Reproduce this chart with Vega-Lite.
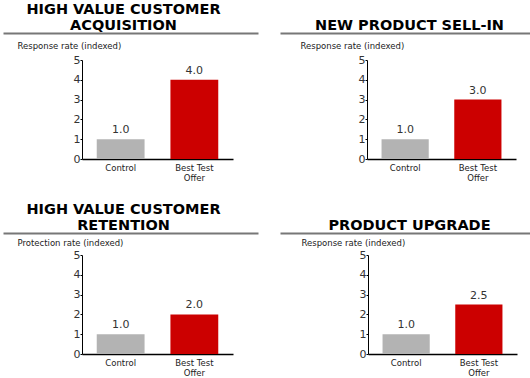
{
  "$schema": "https://vega.github.io/schema/vega-lite/v6.json",
  "padding": {"top": 1, "left": 0, "right": 0, "bottom": 0},
  "background": "white",
  "config": {
    "view": {"stroke": null},
    "font": "DejaVu Sans"
  },
  "data": {
    "values": [
      {"panel": "p1", "cat": "Control", "value": 1.0},
      {"panel": "p1", "cat": "Best Test Offer", "value": 4.0},
      {"panel": "p2", "cat": "Control", "value": 1.0},
      {"panel": "p2", "cat": "Best Test Offer", "value": 3.0},
      {"panel": "p3", "cat": "Control", "value": 1.0},
      {"panel": "p3", "cat": "Best Test Offer", "value": 2.0},
      {"panel": "p4", "cat": "Control", "value": 1.0},
      {"panel": "p4", "cat": "Best Test Offer", "value": 2.5}
    ]
  },
  "columns": 2,
  "spacing": {"row": 96, "column": 22},
  "bounds": "flush",
  "concat": [
    {
      "width": 255, "height": 99,
      "title": {"text": ["HIGH VALUE CUSTOMER", "ACQUISITION"], "font": "DejaVu Sans", "fontSize": 14.5, "fontWeight": "bold", "color": "#000", "lineHeight": 16, "anchor": "middle", "frame": "group", "offset": 0, "dx": -7},
      "transform": [{"filter": "datum.panel == 'p1'"}],
      "layer": [
        {
          "layer": [
            {"mark": {"type": "bar"}, "encoding": {"color": {"field": "cat", "type": "nominal", "scale": {"domain": ["Control", "Best Test Offer"], "range": ["#b3b3b3", "#cc0000"]}, "legend": null}}},
            {"mark": {"type": "text", "dy": -4, "baseline": "bottom", "fontSize": 11, "color": "#333", "font": "DejaVu Sans"}, "encoding": {"text": {"field": "value", "type": "quantitative", "format": ".1f"}}}
          ],
          "encoding": {
            "x": {"field": "cat", "type": "nominal", "sort": ["Control", "Best Test Offer"], "scale": {"range": [79, 230], "paddingInner": 0.351, "paddingOuter": 0.2},
              "axis": {"title": null, "labelAngle": 0, "ticks": false, "domainColor": "#000", "domainWidth": 1.5, "labelFont": "DejaVu Sans", "labelFontSize": 8.5, "labelColor": "#222", "labelPadding": 4, "labelLineHeight": 10, "labelExpr": "datum.label == 'Best Test Offer' ? ['Best Test', 'Offer'] : datum.label"}},
            "y": {"field": "value", "type": "quantitative", "scale": {"domain": [0, 5]},
              "axis": {"values": [0, 1, 2, 3, 4, 5], "offset": -79, "grid": false, "title": "Response rate (indexed)", "titleAngle": 0, "titleX": -65, "titleY": -12, "titleAlign": "left", "titleBaseline": "alphabetic", "titleFont": "DejaVu Sans", "titleFontSize": 8.5, "titleFontWeight": "normal", "titleColor": "#222", "labelFont": "DejaVu Sans", "labelFontSize": 11, "labelColor": "#333", "labelPadding": 0, "tickSize": 2, "tickColor": "#000", "domainColor": "#000"}}
          }
        },
        {
          "mark": {"type": "point", "opacity": 0},
          "encoding": {"x": {"datum": 0, "type": "quantitative", "scale": {"domain": [0, 1], "nice": false}, "axis": {"orient": "top", "offset": 27, "domainColor": "#777", "domainWidth": 2, "ticks": false, "labels": false, "title": null, "grid": false}}}
        }
      ],
      "resolve": {"scale": {"x": "independent"}, "axis": {"x": "independent"}}
    },
    {
      "width": 253, "height": 99,
      "title": {"text": "NEW PRODUCT SELL-IN", "font": "DejaVu Sans", "fontSize": 14.5, "fontWeight": "bold", "color": "#000", "lineHeight": 16, "anchor": "middle", "frame": "group", "offset": 0, "dx": 3},
      "transform": [{"filter": "datum.panel == 'p2'"}],
      "layer": [
        {
          "layer": [
            {"mark": {"type": "bar"}, "encoding": {"color": {"field": "cat", "type": "nominal", "scale": {"domain": ["Control", "Best Test Offer"], "range": ["#b3b3b3", "#cc0000"]}, "legend": null}}},
            {"mark": {"type": "text", "dy": -4, "baseline": "bottom", "fontSize": 11, "color": "#333", "font": "DejaVu Sans"}, "encoding": {"text": {"field": "value", "type": "quantitative", "format": ".1f"}}}
          ],
          "encoding": {
            "x": {"field": "cat", "type": "nominal", "sort": ["Control", "Best Test Offer"], "scale": {"range": [87, 236], "paddingInner": 0.351, "paddingOuter": 0.2},
              "axis": {"title": null, "labelAngle": 0, "ticks": false, "domainColor": "#000", "domainWidth": 1.5, "labelFont": "DejaVu Sans", "labelFontSize": 8.5, "labelColor": "#222", "labelPadding": 4, "labelLineHeight": 10, "labelExpr": "datum.label == 'Best Test Offer' ? ['Best Test', 'Offer'] : datum.label"}},
            "y": {"field": "value", "type": "quantitative", "scale": {"domain": [0, 5]},
              "axis": {"values": [0, 1, 2, 3, 4, 5], "offset": -87, "grid": false, "title": "Response rate (indexed)", "titleAngle": 0, "titleX": -67, "titleY": -12, "titleAlign": "left", "titleBaseline": "alphabetic", "titleFont": "DejaVu Sans", "titleFontSize": 8.5, "titleFontWeight": "normal", "titleColor": "#222", "labelFont": "DejaVu Sans", "labelFontSize": 11, "labelColor": "#333", "labelPadding": 0, "tickSize": 2, "tickColor": "#000", "domainColor": "#000"}}
          }
        },
        {
          "mark": {"type": "point", "opacity": 0},
          "encoding": {"x": {"datum": 0, "type": "quantitative", "scale": {"domain": [0, 1], "nice": false}, "axis": {"orient": "top", "offset": 27, "domainColor": "#777", "domainWidth": 2, "ticks": false, "labels": false, "title": null, "grid": false}}}
        }
      ],
      "resolve": {"scale": {"x": "independent"}, "axis": {"x": "independent"}}
    },
    {
      "width": 255, "height": 99,
      "title": {"text": ["HIGH VALUE CUSTOMER", "RETENTION"], "font": "DejaVu Sans", "fontSize": 14.5, "fontWeight": "bold", "color": "#000", "lineHeight": 16, "anchor": "middle", "frame": "group", "offset": 0, "dx": -7},
      "transform": [{"filter": "datum.panel == 'p3'"}],
      "layer": [
        {
          "layer": [
            {"mark": {"type": "bar"}, "encoding": {"color": {"field": "cat", "type": "nominal", "scale": {"domain": ["Control", "Best Test Offer"], "range": ["#b3b3b3", "#cc0000"]}, "legend": null}}},
            {"mark": {"type": "text", "dy": -4, "baseline": "bottom", "fontSize": 11, "color": "#333", "font": "DejaVu Sans"}, "encoding": {"text": {"field": "value", "type": "quantitative", "format": ".1f"}}}
          ],
          "encoding": {
            "x": {"field": "cat", "type": "nominal", "sort": ["Control", "Best Test Offer"], "scale": {"range": [79, 230], "paddingInner": 0.351, "paddingOuter": 0.2},
              "axis": {"title": null, "labelAngle": 0, "ticks": false, "domainColor": "#000", "domainWidth": 1.5, "labelFont": "DejaVu Sans", "labelFontSize": 8.5, "labelColor": "#222", "labelPadding": 4, "labelLineHeight": 10, "labelExpr": "datum.label == 'Best Test Offer' ? ['Best Test', 'Offer'] : datum.label"}},
            "y": {"field": "value", "type": "quantitative", "scale": {"domain": [0, 5]},
              "axis": {"values": [0, 1, 2, 3, 4, 5], "offset": -79, "grid": false, "title": "Protection rate (indexed)", "titleAngle": 0, "titleX": -65, "titleY": -10, "titleAlign": "left", "titleBaseline": "alphabetic", "titleFont": "DejaVu Sans", "titleFontSize": 8.5, "titleFontWeight": "normal", "titleColor": "#222", "labelFont": "DejaVu Sans", "labelFontSize": 11, "labelColor": "#333", "labelPadding": 0, "tickSize": 2, "tickColor": "#000", "domainColor": "#000"}}
          }
        },
        {
          "mark": {"type": "point", "opacity": 0},
          "encoding": {"x": {"datum": 0, "type": "quantitative", "scale": {"domain": [0, 1], "nice": false}, "axis": {"orient": "top", "offset": 22, "domainColor": "#777", "domainWidth": 2, "ticks": false, "labels": false, "title": null, "grid": false}}}
        }
      ],
      "resolve": {"scale": {"x": "independent"}, "axis": {"x": "independent"}}
    },
    {
      "width": 253, "height": 99,
      "title": {"text": "PRODUCT UPGRADE", "font": "DejaVu Sans", "fontSize": 14.5, "fontWeight": "bold", "color": "#000", "lineHeight": 16, "anchor": "middle", "frame": "group", "offset": 0, "dx": 3},
      "transform": [{"filter": "datum.panel == 'p4'"}],
      "layer": [
        {
          "layer": [
            {"mark": {"type": "bar"}, "encoding": {"color": {"field": "cat", "type": "nominal", "scale": {"domain": ["Control", "Best Test Offer"], "range": ["#b3b3b3", "#cc0000"]}, "legend": null}}},
            {"mark": {"type": "text", "dy": -4, "baseline": "bottom", "fontSize": 11, "color": "#333", "font": "DejaVu Sans"}, "encoding": {"text": {"field": "value", "type": "quantitative", "format": ".1f"}}}
          ],
          "encoding": {
            "x": {"field": "cat", "type": "nominal", "sort": ["Control", "Best Test Offer"], "scale": {"range": [88, 237], "paddingInner": 0.351, "paddingOuter": 0.2},
              "axis": {"title": null, "labelAngle": 0, "ticks": false, "domainColor": "#000", "domainWidth": 1.5, "labelFont": "DejaVu Sans", "labelFontSize": 8.5, "labelColor": "#222", "labelPadding": 4, "labelLineHeight": 10, "labelExpr": "datum.label == 'Best Test Offer' ? ['Best Test', 'Offer'] : datum.label"}},
            "y": {"field": "value", "type": "quantitative", "scale": {"domain": [0, 5]},
              "axis": {"values": [0, 1, 2, 3, 4, 5], "offset": -88, "grid": false, "title": "Response rate (indexed)", "titleAngle": 0, "titleX": -67, "titleY": -10, "titleAlign": "left", "titleBaseline": "alphabetic", "titleFont": "DejaVu Sans", "titleFontSize": 8.5, "titleFontWeight": "normal", "titleColor": "#222", "labelFont": "DejaVu Sans", "labelFontSize": 11, "labelColor": "#333", "labelPadding": 0, "tickSize": 2, "tickColor": "#000", "domainColor": "#000"}}
          }
        },
        {
          "mark": {"type": "point", "opacity": 0},
          "encoding": {"x": {"datum": 0, "type": "quantitative", "scale": {"domain": [0, 1], "nice": false}, "axis": {"orient": "top", "offset": 22, "domainColor": "#777", "domainWidth": 2, "ticks": false, "labels": false, "title": null, "grid": false}}}
        }
      ],
      "resolve": {"scale": {"x": "independent"}, "axis": {"x": "independent"}}
    }
  ]
}
